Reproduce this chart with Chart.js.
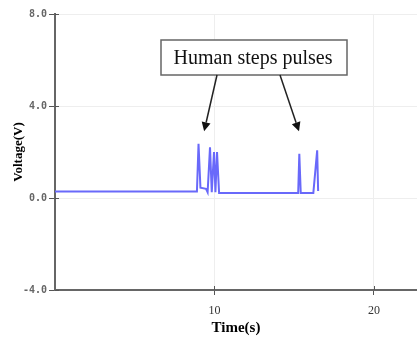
<!DOCTYPE html>
<html>
<head>
<meta charset="utf-8">
<script src="https://cdn.jsdelivr.net/npm/chart.js@4.4.0/dist/chart.umd.min.js"></script>
<style>
  html, body { margin: 0; padding: 0; background: #fff; }
  #wrap { width: 417px; height: 338px; }
</style>
</head>
<body>
<div id="wrap"><canvas id="chart" width="417" height="338"></canvas></div>
<script>
// time (s) and voltage (V)
var times = [0, 8.9, 9.0, 9.12, 9.47, 9.57, 9.72, 9.83, 9.97, 10.06, 10.16, 10.29,
             15.25, 15.32, 15.41, 16.2, 16.44, 16.5];
var volts = [0.28, 0.28, 2.36, 0.45, 0.4, 0.25, 2.2, 0.25, 2.0, 0.25, 2.0, 0.22,
             0.22, 1.92, 0.22, 0.22, 2.07, 0.3];
var yTicks = [-4, 0, 4, 8];
var xTicks = [10, 20];
var noteText = "Human steps pulses";
// where the two arrows point (time, voltage)
var arrowTips = [[9.35, 2.9], [15.3, 2.9]];

var points = [];
for (var i = 0; i < times.length; i++) {
    points.push({x: times[i], y: volts[i]});
}

var notePlugin = {
    id: 'note',
    afterDraw: function (chart) {
        var ctx = chart.ctx;
        var sx = chart.scales.x, sy = chart.scales.y;
        var area = chart.chartArea;

        // small tick marks poking inside the plot
        ctx.save();
        ctx.strokeStyle = '#555';
        ctx.lineWidth = 1;
        sy.ticks.forEach(function (t) {
            var py = Math.round(sy.getPixelForValue(t.value)) + 0.5;
            ctx.beginPath();
            ctx.moveTo(area.left, py);
            ctx.lineTo(area.left + 4, py);
            ctx.stroke();
        });
        sx.ticks.forEach(function (t) {
            var px = Math.round(sx.getPixelForValue(t.value)) + 0.5;
            ctx.beginPath();
            ctx.moveTo(px, area.bottom);
            ctx.lineTo(px, area.bottom - 4);
            ctx.stroke();
        });
        ctx.restore();

        var bx = 161, by = 40, bw = 186, bh = 35;
        ctx.save();
        ctx.fillStyle = '#fff';
        ctx.fillRect(bx, by, bw, bh);
        ctx.strokeStyle = '#666';
        ctx.lineWidth = 1.5;
        ctx.strokeRect(bx, by, bw, bh);
        ctx.fillStyle = '#111';
        ctx.font = '20px "Liberation Serif"';
        ctx.textAlign = 'center';
        ctx.textBaseline = 'middle';
        ctx.fillText(noteText, bx + bw / 2 - 1, by + bh / 2 + 1);

        var starts = [[217, by + bh], [280, by + bh]];
        ctx.strokeStyle = '#222';
        ctx.fillStyle = '#111';
        ctx.lineWidth = 1.5;
        for (var k = 0; k < arrowTips.length; k++) {
            var x0 = starts[k][0], y0 = starts[k][1];
            var x1 = sx.getPixelForValue(arrowTips[k][0]);
            var y1 = sy.getPixelForValue(arrowTips[k][1]);
            var ang = Math.atan2(y1 - y0, x1 - x0);
            var hl = 9, hw = 4.5;
            var bxp = x1 - hl * Math.cos(ang), byp = y1 - hl * Math.sin(ang);
            ctx.beginPath();
            ctx.moveTo(x0, y0);
            ctx.lineTo(bxp, byp);
            ctx.stroke();
            ctx.beginPath();
            ctx.moveTo(x1, y1);
            ctx.lineTo(bxp + hw * Math.sin(ang), byp - hw * Math.cos(ang));
            ctx.lineTo(bxp - hw * Math.sin(ang), byp + hw * Math.cos(ang));
            ctx.closePath();
            ctx.fill();
        }
        ctx.restore();
    }
};

new Chart(document.getElementById('chart'), {
    type: 'line',
    data: {
        datasets: [{
            data: points,
            borderColor: 'rgb(105,105,250)',
            borderWidth: 2,
            pointRadius: 0,
            tension: 0,
            fill: false
        }]
    },
    options: {
        responsive: false,
        animation: false,
        layout: { padding: { top: 14, right: 0, left: 0, bottom: 0 } },
        plugins: { legend: { display: false }, tooltip: { enabled: false } },
        scales: {
            x: {
                type: 'linear',
                min: 0,
                max: 22.7,
                afterBuildTicks: function (axis) {
                    axis.ticks = xTicks.map(function (v) { return {value: v}; });
                },
                afterFit: function (axis) { axis.height = 48; },
                grid: { color: '#eeeeee', tickColor: '#555', tickLength: 5, lineWidth: 1 },
                border: { color: '#666', width: 2 },
                ticks: {
                    color: '#333',
                    font: { family: 'Liberation Serif', size: 12 },
                    padding: 9,
                    maxRotation: 0
                },
                title: {
                    display: true,
                    text: 'Time(s)',
                    color: '#000',
                    font: { family: 'Liberation Serif', size: 15, weight: 'bold' },
                    padding: { top: 0, bottom: 1 }
                }
            },
            y: {
                min: -4,
                max: 8,
                afterBuildTicks: function (axis) {
                    axis.ticks = yTicks.map(function (v) { return {value: v}; });
                },
                afterFit: function (axis) { axis.width = 55; },
                grid: { color: '#eeeeee', tickColor: '#555', tickLength: 6, lineWidth: 1 },
                border: { color: '#666', width: 2 },
                ticks: {
                    color: '#666',
                    font: { family: 'DejaVu Sans Mono', size: 10, weight: 'bold' },
                    padding: 2,
                    callback: function (v) { return Number(v).toFixed(1); }
                },
                title: {
                    display: true,
                    text: 'Voltage(V)',
                    color: '#000',
                    font: { family: 'Liberation Serif', size: 13, weight: 'bold' },
                    padding: { top: 11, bottom: 0 }
                }
            }
        }
    },
    plugins: [notePlugin]
});
</script>
</body>
</html>
